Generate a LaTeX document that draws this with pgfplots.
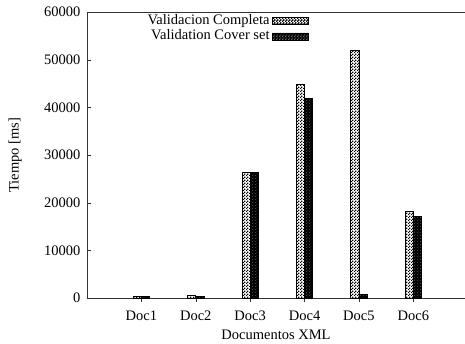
\documentclass[border=0pt]{standalone}
\usepackage{pgfplots}
\pgfplotsset{compat=1.18}
\usepackage{fontspec}
\setmainfont{Liberation Serif}
\usetikzlibrary{patterns}
\pgfdeclarepatternformonly{smallcheck}{\pgfpointorigin}{\pgfpoint{3pt}{3pt}}{\pgfpoint{3pt}{3pt}}{%
  \pgfpathrectangle{\pgfpointorigin}{\pgfpoint{1.5pt}{1.5pt}}%
  \pgfpathrectangle{\pgfpoint{1.5pt}{1.5pt}}{\pgfpoint{1.5pt}{1.5pt}}%
  \pgfusepath{fill}}
\pgfdeclarepatternformonly{smalldots}{\pgfpointorigin}{\pgfpoint{3pt}{3pt}}{\pgfpoint{3pt}{3pt}}{%
  \pgfpathrectangle{\pgfpoint{0.5pt}{0.5pt}}{\pgfpoint{0.8pt}{0.8pt}}%
  \pgfpathrectangle{\pgfpoint{2pt}{2pt}}{\pgfpoint{0.8pt}{0.8pt}}%
  \pgfusepath{fill}}
\pgfplotsset{
  legA/.style={legend image code/.code={\draw[black, line width=0.6pt, fill=white, postaction={pattern=smallcheck}] (0pt,-3.5pt) rectangle (36pt,3.5pt);}},
  legB/.style={legend image code/.code={\draw[black, line width=0.6pt, fill=black, postaction={pattern=smalldots, pattern color=gray!70}] (0pt,-3.5pt) rectangle (36pt,3.5pt);}},
}
\begin{document}
\begin{tikzpicture}
\useasboundingbox (0,0) rectangle (465pt,343pt);
\begin{axis}[
  at={(87pt,45pt)}, anchor=south west,
  scale only axis, width=378pt, height=286pt,
  xmin=0, xmax=6.95, ymin=0, ymax=60000,
  axis y line*=left,
  axis line style={line width=0.9pt, black!80},
  font=\fontsize{14.5}{16}\selectfont,
  /pgf/number format/assume math mode=true,
  scaled y ticks=false,
  yticklabel style={/pgf/number format/1000 sep={}, xshift=-3pt},
  xticklabel style={yshift=-5pt},
  ytick={0,10000,20000,30000,40000,50000,60000},
  xtick={1,2,3,4,5,6},
  xticklabels={Doc1,Doc2,Doc3,Doc4,Doc5,Doc6},
  xtick pos=bottom,
  x tick style={black!80},
  y tick style={black!80},
  tick align=inside,
  major tick length=4pt,
  xlabel={Documentos XML},
  ylabel={Tiempo [ms]},
  xlabel style={at={(axis description cs:0.5,-0.129)}, anchor=center},
  ylabel style={at={(axis description cs:-0.19,0.5)}, anchor=center},
  ybar, bar width=0.15, bar shift=0pt,
  legend style={at={(0.587,0.997)}, anchor=north east, draw=none, fill=none,
    inner sep=0pt, row sep=0pt,
    nodes={inner xsep=2.5pt, inner ysep=1pt, text depth=3.5pt, text height=10pt},
    font=\fontsize{14.5}{16}\selectfont},
  legend cell align=right,
  legend plot pos=right,
]
\addplot[bar shift=-0.075, draw=black, line width=0.6pt, fill=white,
  postaction={pattern=smallcheck}, legA]
  coordinates {(1,300) (2,480) (3,26300) (4,44750) (5,52000) (6,18250)};
\addlegendentry{Validacion Completa}
\addplot[bar shift=0.075, draw=black, line width=0.6pt, fill=black,
  postaction={pattern=smalldots, pattern color=gray!70}, legB]
  coordinates {(1,300) (2,300) (3,26300) (4,41950) (5,780) (6,17060)};
\addlegendentry{Validation Cover set}
\end{axis}
\end{tikzpicture}
\end{document}
